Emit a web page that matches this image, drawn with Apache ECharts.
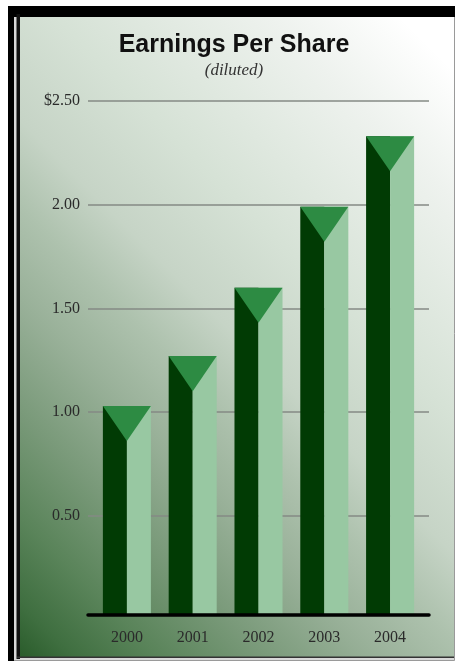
<!DOCTYPE html>
<html>
<head>
<meta charset="utf-8">
<script src="https://cdn.jsdelivr.net/npm/echarts@6/dist/echarts.min.js"></script>
<style>html,body{margin:0;padding:0;background:#fff;}#chart{width:455px;height:662px;}</style>
</head>
<body>
<div id="chart"></div>
<script>
// ---- data ----
const years = ['2000', '2001', '2002', '2003', '2004'];
const eps = [1.03, 1.27, 1.60, 1.99, 2.33];
const yTickLabels = ['', '0.50', '1.00', '1.50', '2.00', '$2.50'];
const titleText = 'Earnings Per Share';
const subtitleText = '(diluted)';

// ---- style ----
const DARK = '#013b04';
const LIGHT = '#98c8a2';
const TRI = '#2d8b43';
const GRID_TOP = 101;
const GRID_BOTTOM = 42.5;
const BASE_GAP = 5;

const chart = echarts.init(document.getElementById('chart'), null, { renderer: 'canvas' });

const option = {
  animation: false,
  backgroundColor: '#ffffff',
  title: {
    text: titleText,
    subtext: subtitleText,
    left: 234,
    textAlign: 'center',
    top: 33,
    padding: 0,
    itemGap: 4,
    textStyle: { fontFamily: 'Liberation Sans', fontWeight: 'bold', fontSize: 25, color: '#111' },
    subtextStyle: { fontFamily: 'Liberation Serif', fontStyle: 'italic', fontSize: 17, color: '#333' }
  },
  graphic: {
    elements: [
      { type: 'rect', z: -20, silent: true, shape: { x: 8.5, y: 6.5, width: 446, height: 654 },
        style: { fill: '#d8d8d8', stroke: '#9a9a9a', lineWidth: 1 } },
      { type: 'rect', z: -19, silent: true, shape: { x: 8, y: 6, width: 447, height: 11 }, style: { fill: '#000' } },
      { type: 'rect', z: -19, silent: true, shape: { x: 8, y: 6, width: 6, height: 655 }, style: { fill: '#000' } },
      { type: 'rect', z: -19, silent: true, shape: { x: 16.5, y: 14, width: 3.5, height: 645 }, style: { fill: '#111' } },
      { type: 'rect', z: -18, silent: true, shape: { x: 20, y: 17, width: 434, height: 640 },
        style: {
          fill: new echarts.graphic.LinearGradient(0, 1, 1.237, 0.161, [
            { offset: 0, color: '#2a5c2b' },
            { offset: 0.05, color: '#3f6f40' },
            { offset: 0.13, color: '#5a845a' },
            { offset: 0.23, color: '#7a9a7a' },
            { offset: 0.33, color: '#98b098' },
            { offset: 0.42, color: '#aec2ae' },
            { offset: 0.5, color: '#c6d4c6' },
            { offset: 0.63, color: '#d6e2d6' },
            { offset: 0.83, color: '#eef2ee' },
            { offset: 0.95, color: '#ffffff' },
            { offset: 1, color: '#ffffff' }
          ])
        } },
      { type: 'rect', z: -17, silent: true, shape: { x: 17, y: 656.5, width: 437, height: 1.5 }, style: { fill: '#333' } }
    ]
  },
  grid: [
    { left: 88, width: 341, top: GRID_TOP, bottom: GRID_BOTTOM, outerBoundsMode: 'none', containLabel: false },
    { left: 94, width: 329, top: GRID_TOP, bottom: GRID_BOTTOM, outerBoundsMode: 'none', containLabel: false }
  ],
  xAxis: [
    {
      gridIndex: 0, type: 'category', data: years, offset: -BASE_GAP,
      axisLine: { show: true, onZero: false, lineStyle: { color: '#000', width: 3.5 } },
      axisTick: { show: false }, axisLabel: { show: false }, splitLine: { show: false }, z: 5
    },
    {
      gridIndex: 1, type: 'category', data: years,
      axisLine: { show: false }, axisTick: { show: false },
      axisLabel: { margin: 10, fontFamily: 'Liberation Serif', fontSize: 16, color: '#2a2a2a' }
    }
  ],
  yAxis: [
    {
      gridIndex: 0, type: 'value', min: 0, max: 2.5, interval: 0.5,
      axisLine: { show: false }, axisTick: { show: false },
      axisLabel: {
        margin: 8, fontFamily: 'Liberation Serif', fontSize: 16, color: '#2a2a2a',
        padding: [0, 0, 8, 0],
        formatter: (v, i) => yTickLabels[i]
      },
      splitLine: { show: true, showMinLine: false, lineStyle: { color: '#848a85', width: 1.5 } }
    },
    { gridIndex: 1, type: 'value', min: 0, max: 2.5, show: false, splitLine: { show: false } }
  ],
  series: [
    {
      type: 'custom',
      xAxisIndex: 1, yAxisIndex: 1,
      data: eps.map((v, i) => [i, v]),
      encode: { x: 0, y: 1 },
      z: 3,
      renderItem: function (params, api) {
        const idx = api.value(0);
        const top = api.coord([idx, api.value(1)]);
        const base = api.coord([idx, 0]);
        const band = api.size([1, 0])[0];
        const w = band * 0.73;
        const x0 = top[0] - w / 2;
        const yTop = top[1];
        const yBot = base[1] - BASE_GAP;
        const triH = w * 0.73;
        return {
          type: 'group',
          children: [
            { type: 'rect', shape: { x: x0, y: yTop, width: w / 2, height: yBot - yTop }, style: { fill: DARK } },
            { type: 'rect', shape: { x: top[0], y: yTop, width: w / 2, height: yBot - yTop }, style: { fill: LIGHT } },
            { type: 'polygon', shape: { points: [[x0, yTop], [x0 + w, yTop], [top[0], yTop + triH]] }, style: { fill: TRI } }
          ]
        };
      }
    }
  ]
};
chart.setOption(option);
</script>
</body>
</html>
